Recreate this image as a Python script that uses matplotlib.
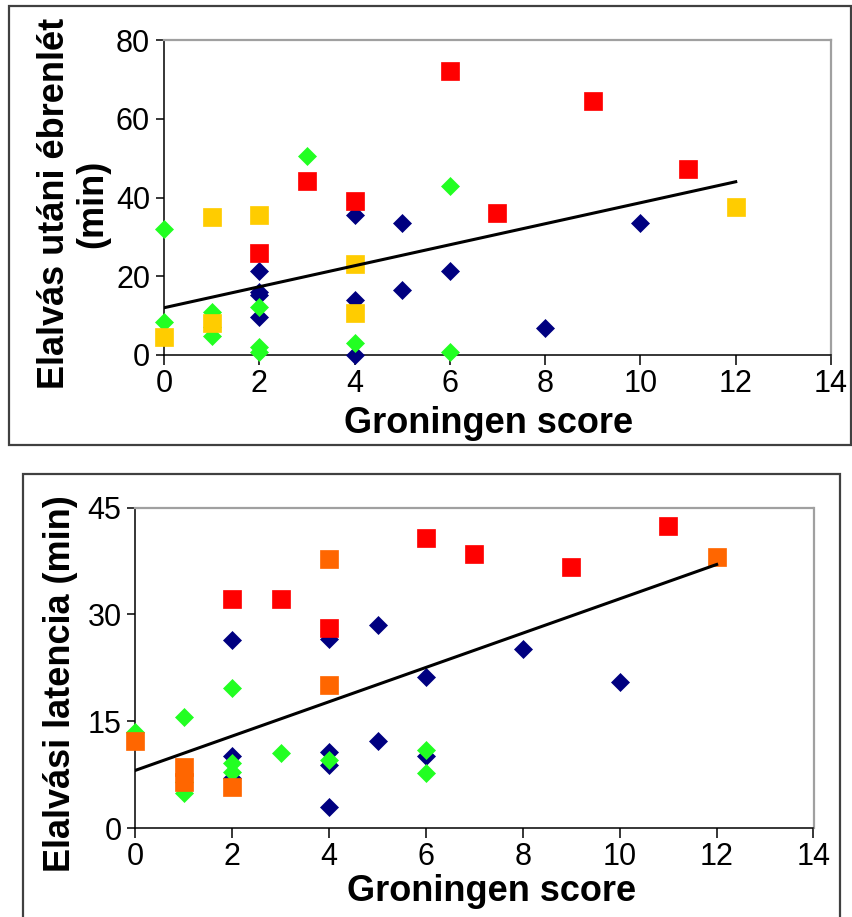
import matplotlib
matplotlib.use('Agg')
import matplotlib.pyplot as plt
from matplotlib.patches import Rectangle

plt.rcParams['font.family'] = ['Liberation Sans', 'DejaVu Sans']

# Groningen score vs. wake after sleep onset (min)
waso_navy_x = [4, 5, 10, 2, 6, 2, 2, 5, 4, 2, 8, 4]
waso_navy_y = [35.6, 33.6, 33.6, 21.3, 21.3, 16.1, 15.2, 16.5, 14.0, 9.7, 6.8, 0.0]
waso_green_x = [3, 6, 0, 1, 2, 0, 1, 1, 2, 2, 4, 6]
waso_green_y = [50.5, 42.9, 32.1, 11.0, 12.1, 8.5, 7.0, 4.8, 2.1, 0.8, 3.0, 0.8]
waso_red_x = [6, 9, 11, 3, 4, 7, 2]
waso_red_y = [72.1, 64.5, 47.2, 44.3, 39.1, 36.0, 25.8]
waso_yellow_x = [1, 2, 4, 4, 1, 0, 12]
waso_yellow_y = [35.0, 35.6, 23.0, 10.6, 8.2, 4.5, 37.7]
waso_trend_x = [0, 12]
waso_trend_y = [12.0, 44.0]

# Groningen score vs. sleep latency (min)
lat_navy_x = [2, 4, 5, 8, 6, 10, 5, 2, 2, 4, 4, 6, 4]
lat_navy_y = [26.4, 26.6, 28.5, 25.2, 21.2, 20.5, 12.2, 10.1, 7.0, 10.7, 8.8, 10.1, 2.9]
lat_green_x = [2, 1, 0, 3, 4, 6, 6, 2, 2, 1, 1]
lat_green_y = [19.6, 15.6, 13.5, 10.5, 9.6, 11.0, 7.7, 9.1, 7.9, 4.9, 6.5]
lat_red_x = [2, 3, 4, 6, 7, 9, 11]
lat_red_y = [32.1, 32.1, 28.1, 40.7, 38.5, 36.7, 42.4]
lat_orange_x = [4, 12, 4, 0, 1, 1, 2]
lat_orange_y = [37.8, 38.0, 20.1, 12.2, 8.6, 6.5, 5.7]
lat_trend_x = [0, 12]
lat_trend_y = [8.1, 37.0]

x_ticks = [0, 2, 4, 6, 8, 10, 12, 14]
waso_ticks = [0, 20, 40, 60, 80]
lat_ticks = [0, 15, 30, 45]

NAVY = '#000080'
GREEN = '#22ff22'
RED = '#ff0000'
YELLOW = '#ffcc00'
ORANGE = '#ff6600'


def diamonds(ax, x, y, color):
    ax.plot(x, y, linestyle='none', marker='D', ms=9.5, color=color,
            mec=color, mew=0.5, clip_on=False, zorder=3)


def squares(ax, x, y, color):
    ax.plot(x, y, linestyle='none', marker='s', ms=12.5, color=color,
            mec=color, mew=0.5, clip_on=False, zorder=3)


def style_axes(ax, ymax, yticks):
    ax.set_xlim(0, 14)
    ax.set_ylim(0, ymax)
    ax.set_xticks(x_ticks)
    ax.set_yticks(yticks)
    for side in ('top', 'right'):
        ax.spines[side].set_color('#a0a0a0')
        ax.spines[side].set_linewidth(1.6)
    for side in ('left', 'bottom'):
        ax.spines[side].set_color('black')
        ax.spines[side].set_linewidth(1.1)
    ax.tick_params(direction='out', length=6, width=1.1, labelsize=22, pad=4)
    ax.tick_params(axis='x', length=7, pad=3)


fig = plt.figure(figsize=(8.53, 9.17), dpi=100)

# outer frames around each chart
fig.patches.append(Rectangle((9 / 853, 1 - 445 / 917), 842 / 853, 439 / 917,
                             transform=fig.transFigure, fill=False,
                             edgecolor='#404040', linewidth=1.6))
fig.patches.append(Rectangle((23 / 853, -0.02), 817 / 853, 1 - 474 / 917 + 0.02,
                             transform=fig.transFigure, fill=False,
                             edgecolor='#404040', linewidth=1.6))

ax1 = fig.add_axes([164 / 853, 1 - 355 / 917, 667 / 853, 315 / 917])
style_axes(ax1, 80, waso_ticks)
diamonds(ax1, waso_navy_x, waso_navy_y, NAVY)
diamonds(ax1, waso_green_x, waso_green_y, GREEN)
squares(ax1, waso_red_x, waso_red_y, RED)
squares(ax1, waso_yellow_x, waso_yellow_y, YELLOW)
ax1.plot(waso_trend_x, waso_trend_y, color='black', lw=2.2, zorder=4)
ax1.set_xlabel('Groningen score', fontsize=26, fontweight='bold')
ax1.xaxis.set_label_coords(0.487, -0.162)
ax1.xaxis.label.set_va('top')
ax1.set_ylabel('Elalvás utáni ébrenlét\n(min)', fontsize=26,
               fontweight='bold', linespacing=1.1)
ax1.yaxis.set_label_coords(-0.081, 0.48)

ax2 = fig.add_axes([135.5 / 853, 1 - 828 / 917, 678 / 853, 320.5 / 917])
style_axes(ax2, 45, lat_ticks)
diamonds(ax2, lat_navy_x, lat_navy_y, NAVY)
diamonds(ax2, lat_green_x, lat_green_y, GREEN)
squares(ax2, lat_red_x, lat_red_y, RED)
squares(ax2, lat_orange_x, lat_orange_y, ORANGE)
ax2.plot(lat_trend_x, lat_trend_y, color='black', lw=2.2, zorder=4)
ax2.set_xlabel('Groningen score', fontsize=26, fontweight='bold')
ax2.xaxis.set_label_coords(0.525, -0.144)
ax2.xaxis.label.set_va('top')
ax2.set_ylabel('Elalvási latencia (min)', fontsize=26, fontweight='bold')
ax2.yaxis.set_label_coords(-0.085, 0.449)

fig.savefig('out.png', dpi=100)
